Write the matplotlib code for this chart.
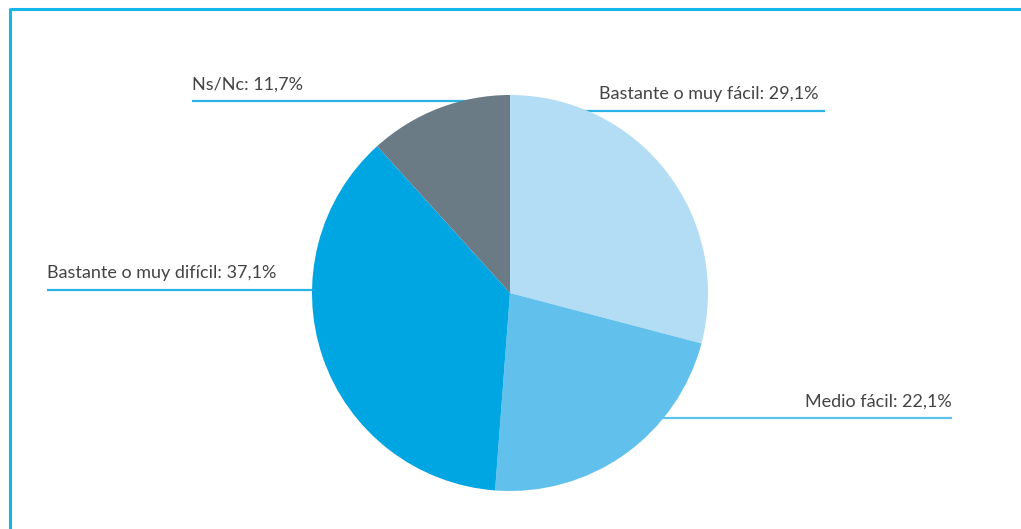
import matplotlib
matplotlib.use("Agg")
import matplotlib.pyplot as plt
from matplotlib.lines import Line2D

# Survey answers (percent)
categories = ["Bastante o muy fácil", "Medio fácil", "Bastante o muy difícil", "Ns/Nc"]
values = [29.1, 22.1, 37.1, 11.7]
colors = ["#b3ddf4", "#62c1ec", "#00a6e2", "#6a7b85"]
line_colors = ["#29b3e6", "#5cc3ee", "#29b3e6", "#29b3e6"]

W, H = 1021, 529
plt.rcParams["font.family"] = ["Lato", "DejaVu Sans"]

fig = plt.figure(figsize=(W / 100, H / 100), dpi=100)
ax = fig.add_axes([0, 0, 1, 1])


def y(p):
    # convert a top-down pixel row to the axis' upward coordinate
    return H - p


# pie
ax.pie(values, colors=colors, startangle=90, counterclock=False,
       center=(510, y(293)), radius=198,
       wedgeprops=dict(linewidth=0, zorder=3), frame=True)
ax.set_xlim(0, W)
ax.set_ylim(0, H)
ax.set_aspect("equal")
ax.axis("off")

# leader lines and labels: (line x0, line x1, line row, text x, text row, alignment)
layout = [
    (560, 825, 111, 599, 99, "left"),
    (600, 952, 418, 952, 407, "right"),
    (47, 400, 290, 47, 278, "left"),
    (192, 510, 101, 192, 90, "left"),
]
for cat, val, lc, (x0, x1, ly, tx, ty, ha) in zip(categories, values, line_colors, layout):
    ax.plot([x0, x1], [y(ly), y(ly)], color=lc, lw=1.6, zorder=1,
            solid_capstyle="butt")
    label = f"{cat}: {val:.1f}%".replace(".", ",")
    ax.text(tx, y(ty), label, ha=ha, va="baseline", fontsize=13,
            color="#444444", zorder=4)

# frame along the top and left edges
frame_c = "#13b5ea"
fig.add_artist(Line2D([9.5 / W, 1], [1 - 9 / H, 1 - 9 / H], color=frame_c,
                      lw=2.2, transform=fig.transFigure, solid_capstyle="butt"))
fig.add_artist(Line2D([10 / W, 10 / W], [0, 1 - 8 / H], color=frame_c,
                      lw=2.2, transform=fig.transFigure, solid_capstyle="butt"))

fig.savefig("out.png", dpi=100)
